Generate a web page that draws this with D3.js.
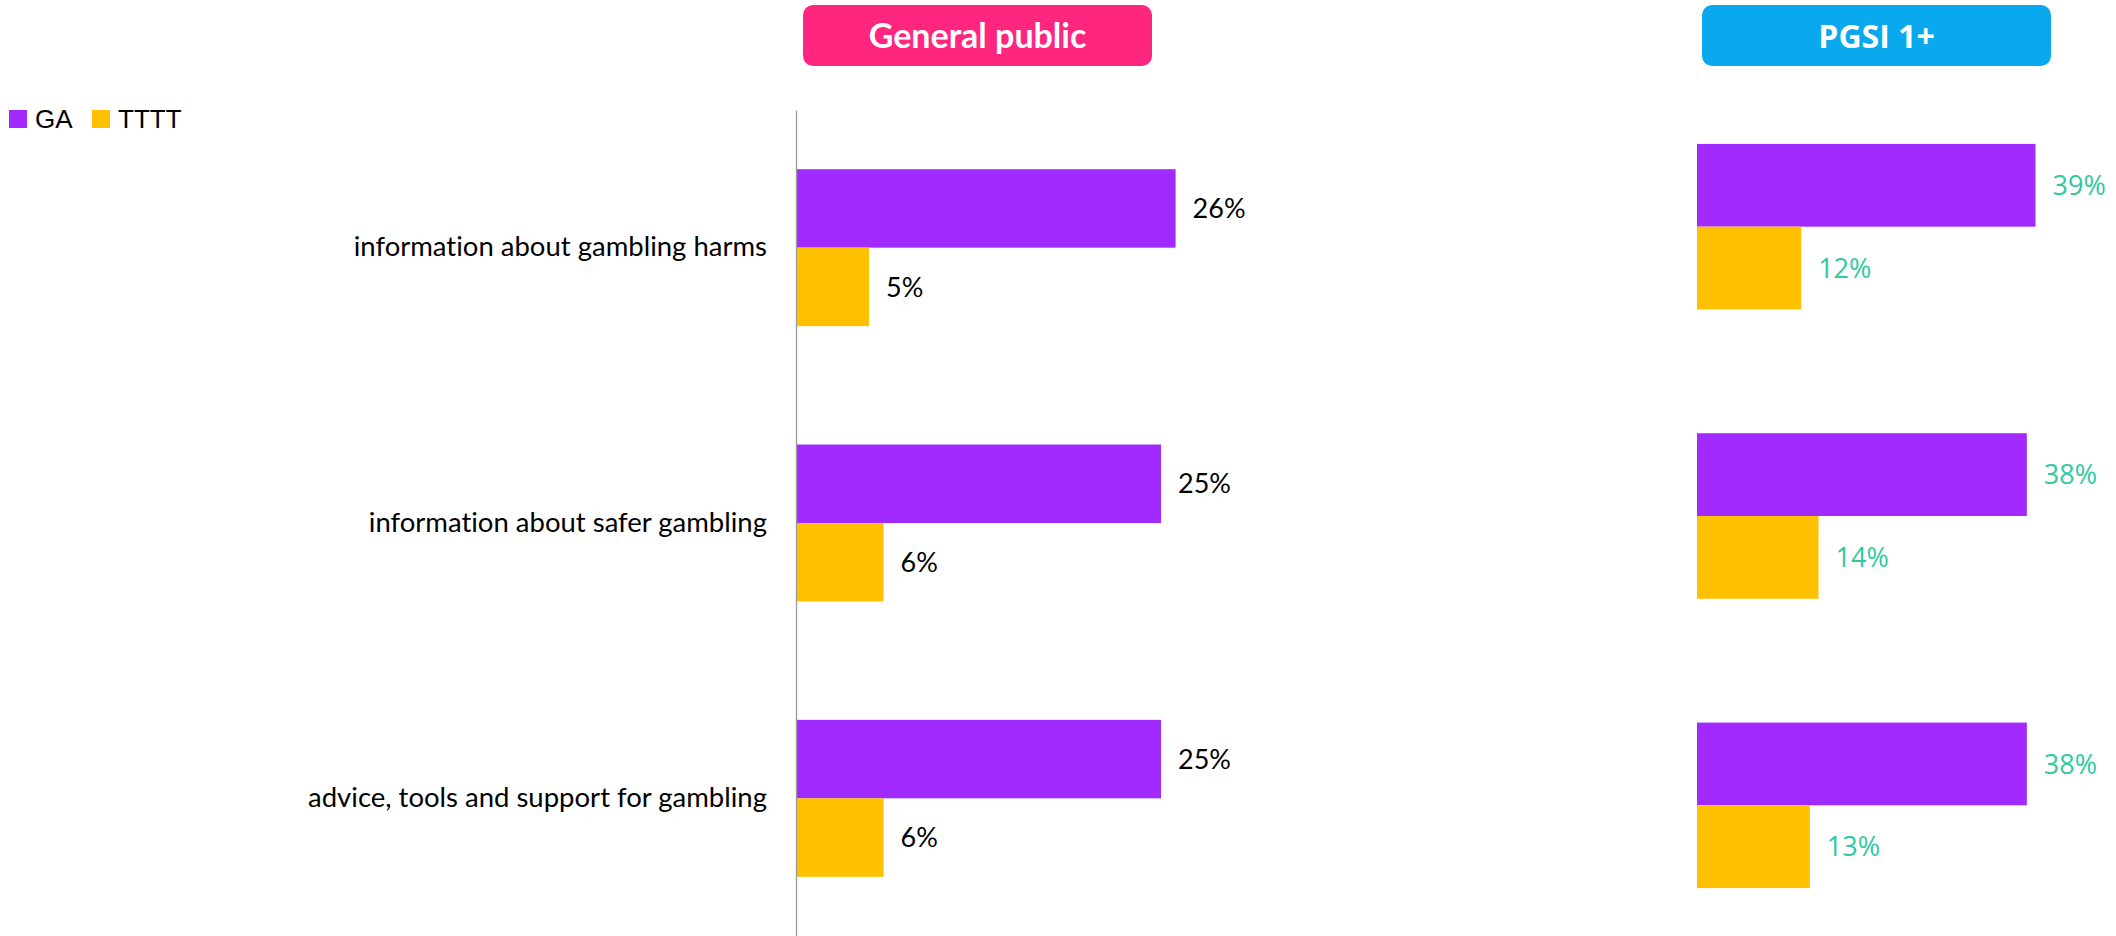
<!DOCTYPE html>
<html>
<head>
<meta charset="utf-8">
<script src="https://cdn.jsdelivr.net/npm/d3@7"></script>
<style>
  html, body { margin: 0; padding: 0; background: #ffffff; }
  svg { display: block; font-variant-ligatures: none; }
</style>
</head>
<body>
<script>
// Awareness of campaigns: share of each audience who recalled the message
const categories = [
  "information about gambling harms",
  "information about safer gambling",
  "advice, tools and support for gambling"
];
const series = ["GA", "TTTT"];
const seriesColors = ["#A12AFF", "#FFC000"];

// General public panel (%)
const generalGA = [26, 25, 25];
const generalTTTT = [5, 6, 6];

// PGSI 1+ panel (%)
const pgsiGA = [39, 38, 38];
const pgsiTTTT = [12, 14, 13];

const panelTitles = ["General public", "PGSI 1+"];
const panelColors = ["#FF2680", "#0AA8EC"];

const W = 2116, H = 936;
const svg = d3.select("body").append("svg").attr("width", W).attr("height", H);

const rows = (ga, tt) => categories.map((c, i) => ({ cat: c, values: [ga[i], tt[i]] }));

const panels = [
  {
    title: panelTitles[0], color: panelColors[0], data: rows(generalGA, generalTTTT),
    x: d3.scaleLinear().domain([0, 100]).range([796, 796 + 1460]),
    y: d3.scaleBand().domain(categories).range([110, 936]).paddingInner(0.43).paddingOuter(0.215),
    box: [803, 1152], labelColor: "#000000", labelFont: "Lato, 'Open Sans', sans-serif",
    titleFont: "Lato, 'Open Sans', sans-serif", titleSize: 34, axis: true
  },
  {
    title: panelTitles[1], color: panelColors[1], data: rows(pgsiGA, pgsiTTTT),
    x: d3.scaleLinear().domain([0, 100]).range([1697, 1697 + 868]),
    y: d3.scaleBand().domain(categories).range([82, 950]).paddingInner(0.428).paddingOuter(0.214),
    box: [1702, 2051], labelColor: "#30C9A2", labelFont: "'Open Sans', sans-serif",
    titleFont: "'Open Sans', sans-serif", titleSize: 32, axis: false
  }
];

panels.forEach(p => {
  // header pill
  const g = svg.append("g");
  g.append("rect")
    .attr("x", p.box[0]).attr("y", 5)
    .attr("width", p.box[1] - p.box[0]).attr("height", 61)
    .attr("rx", 10).attr("fill", p.color);
  g.append("text")
    .attr("x", (p.box[0] + p.box[1]) / 2).attr("y", 36)
    .attr("text-anchor", "middle").attr("dy", "0.36em")
    .attr("fill", "#ffffff").attr("font-weight", 700)
    .attr("font-family", p.titleFont).attr("font-size", p.titleSize)
    .text(p.title);

  const inner = d3.scaleBand().domain(series).range([0, p.y.bandwidth()]);
  const x0 = p.x(0);

  const groups = svg.append("g").selectAll("g.cat")
    .data(p.data).join("g")
    .attr("class", "cat")
    .attr("transform", d => `translate(0,${p.y(d.cat)})`);

  groups.selectAll("rect")
    .data(d => d.values.map((v, i) => ({ s: series[i], v, i })))
    .join("rect")
    .attr("x", x0)
    .attr("y", d => inner(d.s))
    .attr("width", d => p.x(d.v) - x0)
    .attr("height", inner.bandwidth())
    .attr("fill", d => seriesColors[d.i]);

  groups.selectAll("text.val")
    .data(d => d.values.map((v, i) => ({ s: series[i], v, i })))
    .join("text")
    .attr("class", "val")
    .attr("x", d => p.x(d.v) + 17)
    .attr("y", d => inner(d.s) + inner.bandwidth() / 2)
    .attr("dy", "0.36em")
    .attr("fill", p.labelColor)
    .attr("font-family", p.labelFont)
    .attr("font-size", 27)
    .text(d => d.v + "%");

  if (p.axis) {
    const ax = svg.append("g")
      .attr("transform", `translate(${x0},0)`)
      .call(d3.axisLeft(p.y).tickSize(0).tickSizeOuter(0).tickPadding(29));
    ax.select(".domain").attr("stroke", "#9a9a9a").attr("stroke-width", 1.3);
    ax.selectAll(".tick text")
      .attr("fill", "#000000")
      .attr("font-family", "Lato, 'Open Sans', sans-serif")
      .attr("font-size", 27.5);
  }
});

// legend
const legend = svg.append("g").attr("transform", "translate(9,110)");
const legendX = [0, 83];
series.forEach((s, i) => {
  const lg = legend.append("g").attr("transform", `translate(${legendX[i]},0)`);
  lg.append("rect").attr("width", 18).attr("height", 18).attr("fill", seriesColors[i]);
  lg.append("text")
    .attr("x", 26).attr("y", 9).attr("dy", "0.36em")
    .attr("font-family", "'Liberation Sans', Arial, sans-serif")
    .attr("font-size", 26).attr("fill", "#000000")
    .text(s);
});
</script>
</body>
</html>
